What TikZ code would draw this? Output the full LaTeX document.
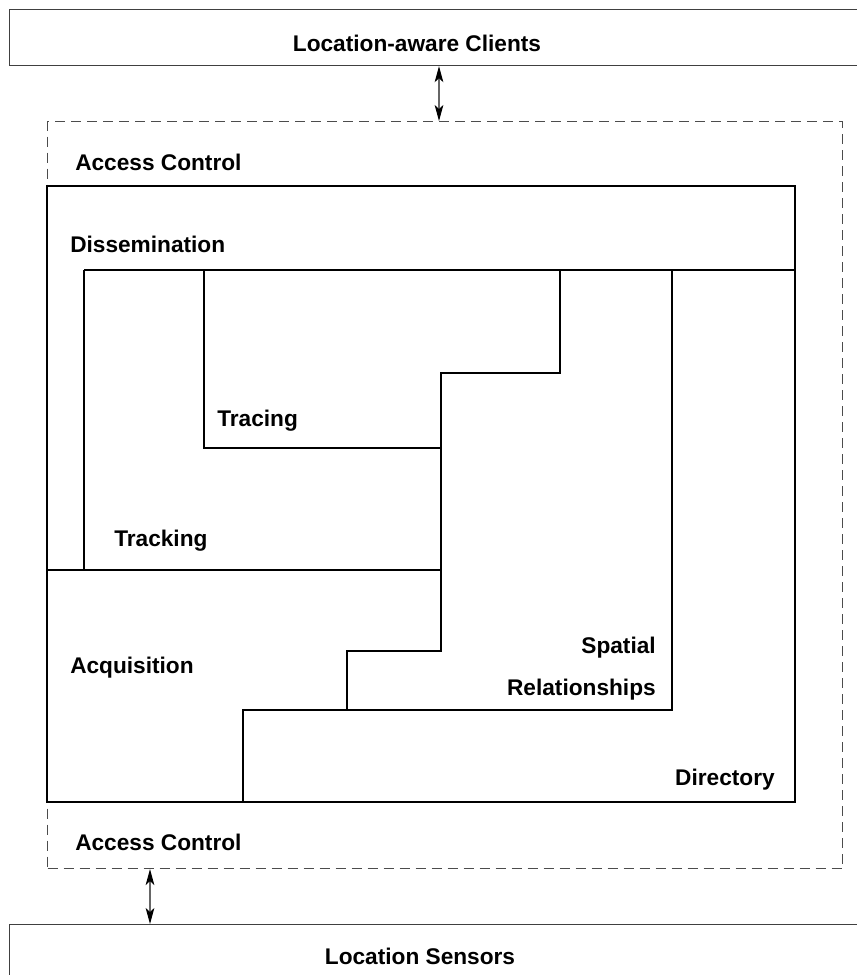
\documentclass[tikz,border=0pt]{standalone}
\usepackage{fontspec}
\setmainfont{Liberation Sans}
\usetikzlibrary{arrows.meta}
\begin{document}
\begin{tikzpicture}[x=0.75pt,y=-0.75pt,
  lbl/.style={font=\bfseries\fontsize{17}{20}\selectfont, inner sep=0pt},
  layerbox/.style={draw=black!75, line width=0.9pt, inner sep=0pt, anchor=north west},
  wall/.style={draw=black, line width=0.9pt, line join=miter},
  dashbox/.style={draw=black!70, line width=0.8pt, dash pattern=on 7.5pt off 4.5pt, inner sep=0pt, anchor=north west},
  link/.style={draw=black!60, line width=0.8pt, {Stealth[length=12pt,width=6.5pt,inset=3pt,color=black]}-{Stealth[length=12pt,width=6.5pt,inset=3pt,color=black]}}
]
\useasboundingbox (0,0) rectangle (857,975);
\begin{scope}
\clip (0,0) rectangle (857,975);

% outer layers: clients on top, sensors below
\node[layerbox, minimum width=870*0.75pt, minimum height=56*0.75pt] (clients) at (9,9) {};
\node[lbl] (clientslbl) at (417,43) {Location-aware Clients};
\node[layerbox, minimum width=870*0.75pt, minimum height=80*0.75pt] (sensors) at (9,924) {};
\node[lbl] (sensorslbl) at (420,956) {Location Sensors};

% access control envelope
\node[dashbox, minimum width=795*0.75pt, minimum height=747*0.75pt] (access) at (47,121) {};

% links between the layers
\coordinate (topx) at (439,0);
\coordinate (botx) at (150,0);
\draw[link] (clients.south -| topx) -- (access.north -| topx);
\draw[link] (access.south -| botx) -- (sensors.north -| botx);

% core service box
\draw[wall] (47,186) rectangle (795,802);
% dissemination strip
\draw[wall] (84,270) -- (795,270);
% tracking
\draw[wall] (84,270) -- (84,570);
\draw[wall] (47,570) -- (441,570);
% tracing
\draw[wall] (204,270) -- (204,448) -- (441,448);
% staircase between tracing/tracking/acquisition and spatial relationships
\draw[wall] (560,270) -- (560,373) -- (441,373) -- (441,651) -- (347,651)
            -- (347,710) -- (243,710) -- (243,802);
\draw[wall] (347,710) -- (672,710) -- (672,270);

% labels
\node[lbl, anchor=base west] (ac1) at (75,170) {Access Control};
\node[lbl, anchor=base west] (dis) at (70,252) {Dissemination};
\node[lbl, anchor=base west] (trc) at (217,426) {Tracing};
\node[lbl, anchor=base west] (trk) at (114,546) {Tracking};
\node[lbl, anchor=base west] (acq) at (70,673) {Acquisition};
\node[lbl, anchor=base east] (sp1) at (656,653) {Spatial};
\node[lbl, anchor=base east] (sp2) at (656,695) {Relationships};
\node[lbl, anchor=base east] (dir) at (775,785) {Directory};
\node[lbl, anchor=base west] (ac2) at (75,850) {Access Control};
\end{scope}
\end{tikzpicture}
\end{document}
